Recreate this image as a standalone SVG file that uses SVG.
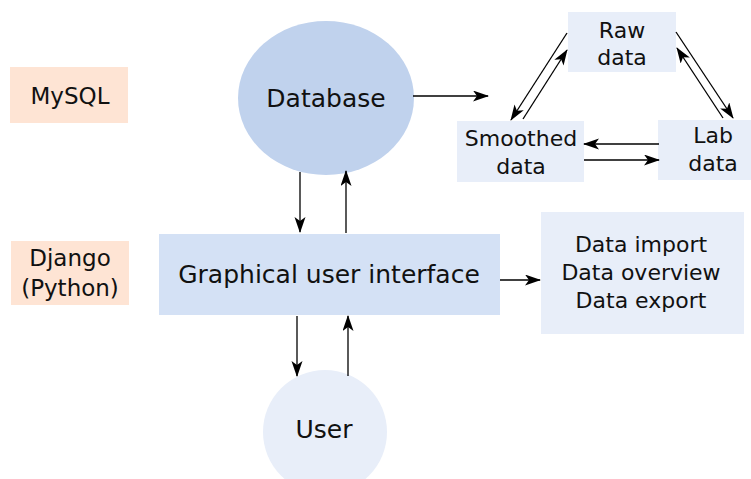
<svg xmlns="http://www.w3.org/2000/svg" width="751" height="479" viewBox="0 0 751 479">
<style>
text{font-family:"DejaVu Sans","Liberation Sans",sans-serif;fill:#111;text-anchor:middle;dominant-baseline:central}
.peach{fill:#fee4d4}
.light{fill:#e8eef9}
.c{stroke:#000;stroke-width:1.3;fill:none;marker-end:url(#ah)}
</style>
<defs>
<marker id="ah" markerUnits="userSpaceOnUse" markerWidth="18" markerHeight="12" refX="15" refY="5.5" orient="auto">
<path d="M0,0 L16,5.5 L0,11 L4,5.5 z" fill="#000"/>
</marker>
</defs>
<rect width="751" height="479" fill="#fff"/>
<g id="mysql"><rect class="peach" x="10" y="67" width="118" height="56"/><text x="70" y="96" font-size="23">MySQL</text></g>
<g id="django"><rect class="peach" x="11" y="241" width="118" height="64"/><text x="70" y="258" font-size="23">Django</text><text x="70" y="288" font-size="23">(Python)</text></g>
<g id="database"><ellipse cx="326" cy="98" rx="88" ry="77" fill="#c0d2ed"/><text x="326" y="98" font-size="25">Database</text></g>
<g id="gui"><rect x="159" y="234" width="341" height="81" fill="#d4e1f5"/><text x="329" y="274" font-size="25">Graphical user interface</text></g>
<g id="user"><circle cx="325" cy="432" r="62" fill="#e8eef9"/><text x="324" y="429" font-size="25">User</text></g>
<g id="functions"><rect class="light" x="541" y="212" width="203" height="122"/><text x="641" y="244" font-size="22">Data import</text><text x="641" y="272" font-size="22">Data overview</text><text x="641" y="300" font-size="22">Data export</text></g>
<g id="raw"><rect class="light" x="568" y="12" width="108" height="60"/><text x="622" y="30" font-size="22">Raw</text><text x="622" y="57" font-size="22">data</text></g>
<g id="smoothed"><rect class="light" x="457" y="121" width="127" height="61"/><text x="521" y="138" font-size="22">Smoothed</text><text x="521" y="166" font-size="22">data</text></g>
<g id="lab"><rect class="light" x="658" y="120" width="93" height="60"/><text x="713" y="135" font-size="22">Lab</text><text x="713" y="163" font-size="22">data</text></g>
<g id="connectors">
<line class="c" x1="413" y1="96" x2="488" y2="96"/>
<line class="c" x1="567" y1="33" x2="511" y2="120"/>
<line class="c" x1="523" y1="119" x2="567" y2="50"/>
<line class="c" x1="676" y1="32" x2="733" y2="118"/>
<line class="c" x1="723" y1="118" x2="677" y2="48"/>
<line class="c" x1="659" y1="144" x2="584" y2="144"/>
<line class="c" x1="584" y1="160" x2="659" y2="160"/>
<line class="c" x1="300" y1="172" x2="300" y2="232"/>
<line class="c" x1="346" y1="233" x2="346" y2="171"/>
<line class="c" x1="297" y1="316" x2="297" y2="376"/>
<line class="c" x1="348" y1="376" x2="348" y2="316"/>
<line class="c" x1="500" y1="280" x2="540" y2="280"/>
</g>
</svg>
